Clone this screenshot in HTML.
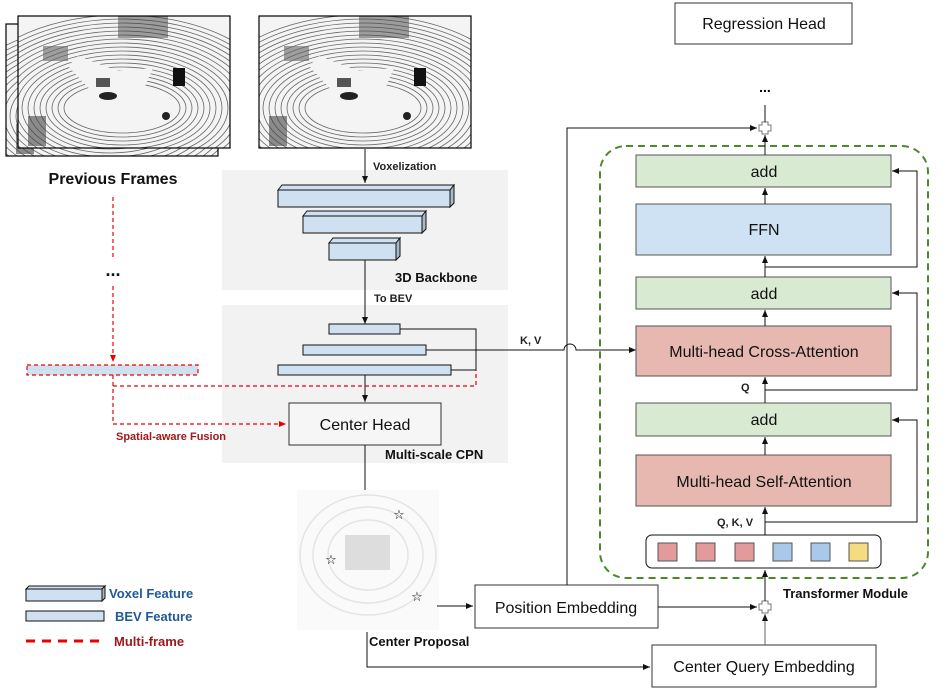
<!DOCTYPE html>
<html><head><meta charset="utf-8"><style>
body{margin:0;background:#fff}
svg{display:block;font-family:"Liberation Sans","DejaVu Sans",sans-serif}
</style></head><body>
<svg width="946" height="691" viewBox="0 0 946 691" xmlns="http://www.w3.org/2000/svg">
<defs>
<marker id="ar" markerWidth="8" markerHeight="8" refX="7" refY="4" orient="auto" markerUnits="userSpaceOnUse"><path d="M0,1 L7,4 L0,7 z" fill="#111"/></marker>
<marker id="arr" markerWidth="8" markerHeight="8" refX="7" refY="4" orient="auto" markerUnits="userSpaceOnUse"><path d="M0,1 L7,4 L0,7 z" fill="#e00"/></marker>
<clipPath id="pc"><rect x="0" y="0" width="212" height="132"/></clipPath>
<g id="cloud">
<rect x="0" y="0" width="212" height="132" fill="#f4f4f4"/>
<g clip-path="url(#pc)" fill="none" stroke="#666" stroke-width="0.8">
<ellipse cx="104" cy="92" rx="58" ry="25"/><ellipse cx="104" cy="92" rx="64" ry="29"/><ellipse cx="104" cy="92" rx="70" ry="33"/><ellipse cx="104" cy="92" rx="76" ry="37"/><ellipse cx="104" cy="92" rx="82" ry="41"/><ellipse cx="104" cy="92" rx="88" ry="45"/><ellipse cx="104" cy="92" rx="94" ry="49"/><ellipse cx="104" cy="92" rx="100" ry="53"/><ellipse cx="104" cy="92" rx="106" ry="57"/><ellipse cx="104" cy="92" rx="112" ry="61"/><ellipse cx="104" cy="92" rx="118" ry="65"/><ellipse cx="104" cy="92" rx="124" ry="69"/><ellipse cx="104" cy="92" rx="130" ry="73"/><ellipse cx="104" cy="92" rx="136" ry="77"/><ellipse cx="104" cy="92" rx="142" ry="81"/><ellipse cx="104" cy="92" rx="148" ry="85"/><ellipse cx="104" cy="92" rx="154" ry="89"/><ellipse cx="104" cy="92" rx="160" ry="93"/>
</g>
<ellipse cx="104" cy="92" rx="52" ry="24" fill="#f4f4f4"/>
<path d="M60,40 L100,55 L135,52 L125,75 L80,82 L50,50 z" fill="#f4f4f4"/>
<rect x="155" y="52" width="12" height="18" fill="#111"/>
<rect x="100" y="0" width="50" height="22" fill="#444" opacity=".5"/>
<ellipse cx="90" cy="80" rx="9" ry="4" fill="#222"/>
<ellipse cx="148" cy="100" rx="4" ry="4" fill="#222"/>
<rect x="78" y="62" width="14" height="9" fill="#555"/>
<rect x="25" y="30" width="25" height="15" fill="#666" opacity=".6"/>
<rect x="10" y="100" width="18" height="30" fill="#444" opacity=".6"/>
<rect x="0" y="0" width="212" height="132" fill="none" stroke="#000" stroke-width="1.2"/>
</g>
</defs>

<use href="#cloud" x="6" y="24"/>
<use href="#cloud" x="18" y="16"/>
<use href="#cloud" x="259" y="16"/>
<text x="113" y="184" font-size="16" font-weight="bold" text-anchor="middle" fill="#111">Previous Frames</text>
<text x="113" y="276" font-size="18" font-weight="bold" text-anchor="middle" fill="#111">...</text>

<rect x="222" y="170" width="286" height="120" fill="#f2f2f2"/>
<rect x="222" y="305" width="286" height="158" fill="#f2f2f2"/>

<line x1="365" y1="149" x2="365" y2="183" stroke="#111" marker-end="url(#ar)"/>
<text x="373" y="170" font-size="11" font-weight="bold" fill="#222">Voxelization</text>
<g fill="#cfe0f1" stroke="#111" stroke-width="1">
<path d="M278,190 l4,-5 h172 l-4,5 z"/><path d="M450,190 l4,-5 v18 l-4,4 z" fill="#a8b8c6"/><rect x="278" y="190" width="172" height="17"/>
<path d="M303,216 l4,-5 h119 l-4,5 z"/><path d="M422,216 l4,-5 v18 l-4,4 z" fill="#a8b8c6"/><rect x="303" y="216" width="119" height="17"/>
<path d="M329,243 l4,-5 h67 l-4,5 z"/><path d="M396,243 l4,-5 v18 l-4,4 z" fill="#a8b8c6"/><rect x="329" y="243" width="67" height="17"/>
</g>
<text x="395" y="282" font-size="13" font-weight="bold" fill="#111">3D Backbone</text>
<line x1="365" y1="260" x2="365" y2="324" stroke="#111" marker-end="url(#ar)"/>
<text x="374" y="302" font-size="11" font-weight="bold" fill="#222">To BEV</text>
<g fill="#cfe0f1" stroke="#111" stroke-width="1">
<rect x="329" y="324" width="71" height="10"/>
<rect x="303" y="345" width="123" height="10"/>
<rect x="278" y="365" width="173" height="10"/>
</g>
<path d="M400,329 H476 V370 H451" fill="none" stroke="#111"/>
<path d="M426,350 H564 A6,6 0 0 1 576,350 H636" fill="none" stroke="#111" marker-end="url(#ar)"/>
<text x="520" y="344" font-size="11" font-weight="bold" fill="#222">K, V</text>
<line x1="365" y1="375" x2="365" y2="402" stroke="#111" marker-end="url(#ar)"/>
<g stroke="#e00" stroke-width="1.2" stroke-dasharray="4,3" fill="none">
<line x1="113" y1="197" x2="113" y2="258"/>
<line x1="113" y1="286" x2="113" y2="362" marker-end="url(#arr)"/>
<rect x="27" y="365" width="171" height="10" fill="#cfe0f1"/>
<path d="M113,375 V424 H286" marker-end="url(#arr)"/>
<path d="M113,386 H476 V370"/>
</g>
<text x="116" y="440" font-size="11" font-weight="bold" fill="#a01818">Spatial-aware Fusion</text>
<rect x="289" y="403" width="152" height="42" fill="#f6f6f6" stroke="#333"/>
<text x="365" y="430" font-size="16" text-anchor="middle" fill="#111">Center Head</text>
<text x="385" y="459" font-size="13" font-weight="bold" fill="#111">Multi-scale CPN</text>
<line x1="365" y1="445" x2="365" y2="507" stroke="#111" marker-end="url(#ar)"/>
<g fill="none" stroke="#e4e4e4" stroke-width="1.5">
<rect x="297" y="490" width="142" height="140" fill="#fafafa" stroke="none"/>
<ellipse cx="368" cy="555" rx="40" ry="35"/><ellipse cx="368" cy="555" rx="55" ry="48"/><ellipse cx="368" cy="555" rx="68" ry="60"/>
</g>
<rect x="345" y="535" width="45" height="35" fill="#ddd"/>
<text x="399" y="519" font-size="13" text-anchor="middle">☆</text>
<text x="331" y="564" font-size="13" text-anchor="middle">☆</text>
<text x="417" y="601" font-size="13" text-anchor="middle">☆</text>
<text x="369" y="646" font-size="13" font-weight="bold" fill="#111">Center Proposal</text>
<line x1="437" y1="606" x2="473" y2="606" stroke="#111" marker-end="url(#ar)"/>
<path d="M367,632 V667 H650" fill="none" stroke="#111" marker-end="url(#ar)"/>
<rect x="475" y="585" width="183" height="43" fill="#fff" stroke="#333"/>
<text x="566" y="613" font-size="16" text-anchor="middle" fill="#111">Position Embedding</text>
<path d="M567,585 V128 H757" fill="none" stroke="#111" marker-end="url(#ar)"/>
<line x1="658" y1="607" x2="757" y2="607" stroke="#111" marker-end="url(#ar)"/>
<rect x="652" y="645" width="224" height="42" fill="#fff" stroke="#333"/>
<text x="764" y="672" font-size="16" text-anchor="middle" fill="#111">Center Query Embedding</text>
<line x1="765" y1="645" x2="765" y2="614" stroke="#666" marker-end="url(#ar)"/>
<path d="M762,601 h6 v3 h3 v6 h-3 v3 h-6 v-3 h-3 v-6 h3 z" fill="#fff" stroke="#777"/>
<path d="M762,122 h6 v3 h3 v6 h-3 v3 h-6 v-3 h-3 v-6 h3 z" fill="#fff" stroke="#777"/>
<line x1="765" y1="601" x2="765" y2="570" stroke="#111" marker-end="url(#ar)"/>
<line x1="765" y1="122" x2="765" y2="105" stroke="#111"/>
<text x="765" y="92" font-size="14" font-weight="bold" text-anchor="middle">...</text>
<rect x="675" y="3" width="177" height="41" fill="#fff" stroke="#333"/>
<text x="764" y="29" font-size="16" text-anchor="middle" fill="#111">Regression Head</text>
<rect x="600" y="146" width="328" height="432" rx="26" fill="none" stroke="#4a8a2a" stroke-width="2" stroke-dasharray="7,5"/>
<text x="783" y="598" font-size="13" font-weight="bold" fill="#111">Transformer Module</text>
<rect x="646" y="535" width="235" height="33" rx="6" fill="#fff" stroke="#111"/>
<g stroke="#555">
<rect x="658" y="543" width="19" height="18" fill="#e29a9a"/><rect x="696" y="543" width="19" height="18" fill="#e29a9a"/><rect x="735" y="543" width="19" height="18" fill="#e29a9a"/>
<rect x="773" y="543" width="19" height="18" fill="#a9c9ea"/><rect x="811" y="543" width="19" height="18" fill="#a9c9ea"/><rect x="849" y="543" width="19" height="18" fill="#f4dc80"/>
</g>
<g stroke="#555" stroke-width="1">
<rect x="636" y="155" width="255" height="32" fill="#d9ead3"/>
<rect x="636" y="204" width="255" height="51" fill="#cfe2f3"/>
<rect x="636" y="277" width="255" height="32" fill="#d9ead3"/>
<rect x="636" y="326" width="255" height="50" fill="#e6b8af"/>
<rect x="636" y="403" width="255" height="33" fill="#d9ead3"/>
<rect x="636" y="455" width="255" height="51" fill="#e6b8af"/>
</g>
<g font-size="16" text-anchor="middle" fill="#111">
<text x="764" y="177">add</text>
<text x="764" y="235">FFN</text>
<text x="764" y="299">add</text>
<text x="764" y="357">Multi-head Cross-Attention</text>
<text x="764" y="425">add</text>
<text x="764" y="487">Multi-head Self-Attention</text>
</g>
<g stroke="#111" fill="none">
<line x1="765" y1="535" x2="765" y2="507" marker-end="url(#ar)"/>
<line x1="765" y1="455" x2="765" y2="437" marker-end="url(#ar)"/>
<line x1="765" y1="403" x2="765" y2="377" marker-end="url(#ar)"/>
<line x1="765" y1="326" x2="765" y2="310" marker-end="url(#ar)"/>
<line x1="765" y1="277" x2="765" y2="256" marker-end="url(#ar)"/>
<line x1="765" y1="204" x2="765" y2="188" marker-end="url(#ar)"/>
<line x1="765" y1="155" x2="765" y2="135" marker-end="url(#ar)"/>
<path d="M765,522 H917 V420 H892" marker-end="url(#ar)"/>
<path d="M765,390 H917 V293 H892" marker-end="url(#ar)"/>
<path d="M765,267 H917 V171 H892" marker-end="url(#ar)"/>
</g>
<text x="717" y="526" font-size="11" font-weight="bold" fill="#222">Q, K,  V</text>
<text x="741" y="391" font-size="11" font-weight="bold" fill="#222">Q</text>
<g fill="#cfe0f1" stroke="#111">
<path d="M26,589 l3,-3 h76 l-3,3 z"/><path d="M102,589 l3,-3 v12 l-3,3 z" fill="#a8b8c6"/><rect x="26" y="589" width="76" height="12"/>
<rect x="26" y="611" width="78" height="10"/>
</g>
<line x1="26" y1="641" x2="100" y2="641" stroke="#e00" stroke-width="3" stroke-dasharray="9,7"/>
<text x="109" y="598" font-size="13" font-weight="bold" fill="#1f5a96">Voxel Feature</text>
<text x="115" y="621" font-size="13" font-weight="bold" fill="#1f5a96">BEV Feature</text>
<text x="114" y="646" font-size="13" font-weight="bold" fill="#a01818">Multi-frame</text>
</svg>
</body></html>
